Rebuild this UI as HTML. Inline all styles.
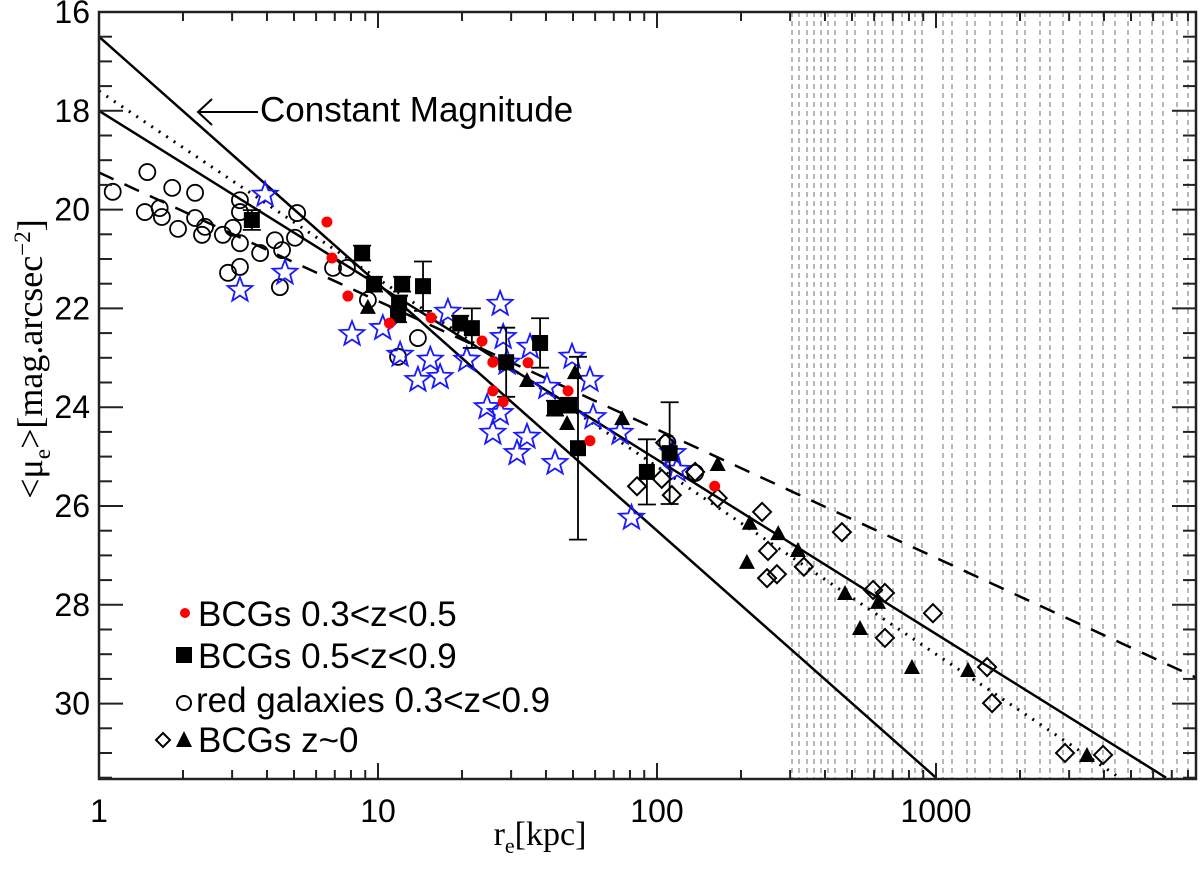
<!DOCTYPE html>
<html><head><meta charset="utf-8"><style>
body{margin:0;background:#fff;}
svg{display:block;font-family:"Liberation Sans",sans-serif;}
</style></head><body>
<svg id="chart" width="1200" height="872" viewBox="0 0 1200 872">
<g id="hatch"></g>
<g id="lines"></g>
<g id="pts"></g>
<rect x="99" y="12" width="1097" height="767" fill="none" stroke="#222" stroke-width="2.5"/>
<g id="axes"></g>
<g>
<line x1="198" y1="112" x2="258" y2="112" stroke="#000" stroke-width="2"/>
<polyline points="212,99 198,112 212,125" fill="none" stroke="#000" stroke-width="2"/>
<text x="260" y="112" font-size="35" dominant-baseline="middle">Constant Magnitude</text>
</g>
<g font-size="35">
<circle cx="185" cy="613" r="5" fill="#f00"/>
<text x="198" y="626">BCGs 0.3&lt;z&lt;0.5</text>
<rect x="176" y="647" width="16" height="16" fill="#000"/>
<text x="198" y="668">BCGs 0.5&lt;z&lt;0.9</text>
<circle cx="184" cy="703" r="7" fill="none" stroke="#000" stroke-width="2"/>
<text x="196" y="712">red galaxies 0.3&lt;z&lt;0.9</text>
<polygon points="163,733 170,740 163,747 156,740" fill="none" stroke="#000" stroke-width="2"/>
<polygon points="184,731 192,747 176,747" fill="#000"/>
<text x="198" y="752">BCGs z~0</text>
</g>
<text x="540" y="845" font-family="Liberation Serif,serif" font-size="34" text-anchor="middle">r<tspan font-size="22" dy="8">e</tspan><tspan dy="-8">[kpc]</tspan></text>
<text transform="translate(42,359) rotate(-90)" font-family="Liberation Serif,serif" font-size="36" text-anchor="middle">&lt;μ<tspan font-size="23" dy="8">e</tspan><tspan dy="-8">&gt;[mag.arcsec</tspan><tspan font-size="23" dy="-12">−2</tspan><tspan dy="12">]</tspan></text>
</svg>
<script>
const xTicks=[1,10,100,1000];
const yTicks=[16,18,20,22,24,26,28,30];
const lineIntercepts=[16.5,18.0,17.6,19.25];
const lineSlopes=[5.0,3.53,3.8,2.6];
const lineStyles=["solid","solid","dotted","dashed"];
const redR=[6.56,6.84,7.8,11.0,15.5,23.6,25.8,34.5,25.8,28.1,48,57.5,161];
const redMu=[20.25,20.98,21.75,22.30,22.19,22.66,23.09,23.10,23.67,23.89,23.67,24.68,25.60];
const sqR=[3.53,8.77,9.68,12.2,14.5,11.9,11.8,19.7,21.7,28.8,38.1,43.1,48.4,52.1,92,111];
const sqMu=[20.21,20.88,21.51,21.51,21.55,21.89,22.13,22.30,22.40,23.09,22.70,24.02,23.96,24.83,25.31,24.93];
const sqErr=[0.2,0.15,0.15,0.15,0.5,0.15,0.15,0.15,0.4,0.7,0.5,0.15,0.15,1.85,0.66,1.03];
const circR=[1.12,1.49,1.83,2.21,1.46,1.65,1.68,1.92,2.21,2.34,2.40,2.78,3.02,3.20,3.20,3.20,2.90,3.20,3.78,4.27,5.04,4.53,4.45,5.13,6.90,7.74,9.2,11.8,13.9,109,137];
const circMu=[19.64,19.24,19.56,19.66,20.05,19.97,20.15,20.39,20.17,20.51,20.35,20.51,20.37,19.81,20.05,20.68,21.28,21.16,20.88,20.62,20.57,20.82,21.57,20.07,21.18,21.18,21.83,22.98,22.60,24.72,25.33];
const starR=[8.07,10.4,12.0,13.9,16.7,15.4,17.8,27.4,20.8,24.6,25.8,31.5,34.2,28.1,35.1,40.3,49.6,57.5,43.1,73.7,114,118,27.4,29.0,3.94,4.64,3.20,81,59];
const starMu=[22.52,22.40,22.94,23.45,23.39,23.04,22.07,21.91,23.04,24.00,24.52,24.93,24.60,22.58,22.78,23.59,22.98,23.45,25.13,24.52,24.93,25.27,24.12,23.10,19.70,21.28,21.63,26.24,24.2];
const diaR=[107,84.8,104,113,137,165,238,250,269,248,336,460,595,656,975,656,1524,1588,2900,3970];
const diaMu=[24.72,25.60,25.45,25.78,25.31,25.84,26.12,26.91,27.38,27.46,27.23,26.53,27.70,27.76,28.17,28.67,29.26,29.99,31.00,31.04];
const triR=[9.2,34.2,50.8,47.6,75,165,215,272,320,210,472,620,534,820,1303,3476];
const triMu=[21.97,23.45,23.29,24.32,24.22,25.15,26.34,26.55,26.89,27.13,27.76,27.94,28.47,29.26,29.32,31.04];

const X0=99,X1=1196,Y0=12,Y1=779;
const X=r=>99+279*Math.log10(r);
const Y=m=>12+49.4*(m-16);
const NS="http://www.w3.org/2000/svg";
function mk(p,t,a){const e=document.createElementNS(NS,t);for(const k in a)e.setAttribute(k,a[k]);p.appendChild(e);return e;}
const hatch=document.getElementById('hatch'),lines=document.getElementById('lines'),pts=document.getElementById('pts'),axes=document.getElementById('axes');
const hx=[792,799,807,814,821,828,835,847,855,868,875,882,893,902,915,922,943,952,967,975,990,1002,1017,1025,1040,1050,1063,1080,1092,1103,1115,1128,1140,1152,1163,1177,1188];
hx.forEach(x=>{const l=mk(hatch,'line',{x1:x,x2:x,y1:Y0,y2:Y1,stroke:'#888','stroke-width':1.2,'stroke-dasharray':'5 4'});

});
lineIntercepts.forEach((a,i)=>{
 const b=lineSlopes[i];
 let l0=0,l1=(X1-99)/279;
 const lEnd=(31.5-a)/b; if(lEnd<l1)l1=lEnd;
 const att={x1:X(Math.pow(10,l0)),y1:Y(a+b*l0),x2:X(Math.pow(10,l1)),y2:Y(a+b*l1),stroke:'#000','stroke-width':2.5,fill:'none'};
 if(lineStyles[i]==='dotted'){att['stroke-dasharray']='2 7';att['stroke-width']=3;}
 if(lineStyles[i]==='dashed'){att['stroke-dasharray']='16 12';}
 const l=mk(lines,'line',att);
 
 
});
circR.forEach((r,i)=>{const c=mk(pts,'circle',{cx:X(r),cy:Y(circMu[i]),r:8,fill:'none',stroke:'#000','stroke-width':1.8});

});
function starPts(cx,cy,R,r){let s=[];for(let k=0;k<10;k++){const a=-Math.PI/2+k*Math.PI/5,rr=k%2?r:R;s.push((cx+rr*Math.cos(a)).toFixed(1)+','+(cy+rr*Math.sin(a)).toFixed(1));}return s.join(' ');}
starR.forEach((r,i)=>{const s=mk(pts,'polygon',{points:starPts(X(r),Y(starMu[i]),13,5.5),fill:'none',stroke:'#1a1aff','stroke-width':1.8});

});
diaR.forEach((r,i)=>{const x=X(r),y=Y(diaMu[i]);const d=mk(pts,'polygon',{points:`${x},${y-9} ${x+9},${y} ${x},${y+9} ${x-9},${y}`,fill:'none',stroke:'#000','stroke-width':2});

});
triR.forEach((r,i)=>{const x=X(r),y=Y(triMu[i]);const t=mk(pts,'polygon',{points:`${x},${y-8} ${x+8},${y+7} ${x-8},${y+7}`,fill:'#000'});

});
sqR.forEach((r,i)=>{const x=X(r),y=Y(sqMu[i]),e=sqErr[i]*49.4;
const g=mk(pts,'g',{});


mk(g,'line',{x1:x,x2:x,y1:y-e,y2:y+e,stroke:'#000','stroke-width':1.8});
mk(g,'line',{x1:x-9,x2:x+9,y1:y-e,y2:y-e,stroke:'#000','stroke-width':1.8});
mk(g,'line',{x1:x-9,x2:x+9,y1:y+e,y2:y+e,stroke:'#000','stroke-width':1.8});
mk(g,'rect',{x:x-8,y:y-8,width:16,height:16,fill:'#000'});});
redR.forEach((r,i)=>{const c=mk(pts,'circle',{cx:X(r),cy:Y(redMu[i]),r:5.5,fill:'#f00'});

});
for(let d=0;d<4;d++)for(let m=1;m<10;m++){const r=Math.pow(10,d)*m,x=X(r);if(x>X1)continue;const len=m===1?16:9;
mk(axes,'line',{x1:x,x2:x,y1:Y1,y2:Y1-len,stroke:'#222','stroke-width':2});
mk(axes,'line',{x1:x,x2:x,y1:Y0,y2:Y0+len,stroke:'#222','stroke-width':2});}
xTicks.forEach(v=>{const t=mk(axes,'text',{x:X(v),y:822,'font-size':32,'text-anchor':'middle'});t.textContent=v;

});
for(let m=16;m<=31.5;m+=0.5){const y=Y(m),maj=(m%2===0),len=maj?24:13;
mk(axes,'line',{x1:X0,x2:X0+len,y1:y,y2:y,stroke:'#222','stroke-width':2});
mk(axes,'line',{x1:X1,x2:X1-len,y1:y,y2:y,stroke:'#222','stroke-width':2});}
yTicks.forEach(v=>{const t=mk(axes,'text',{x:90,y:Y(v)+11,'font-size':32,'text-anchor':'end'});t.textContent=v;

});
</script>
</body></html>
